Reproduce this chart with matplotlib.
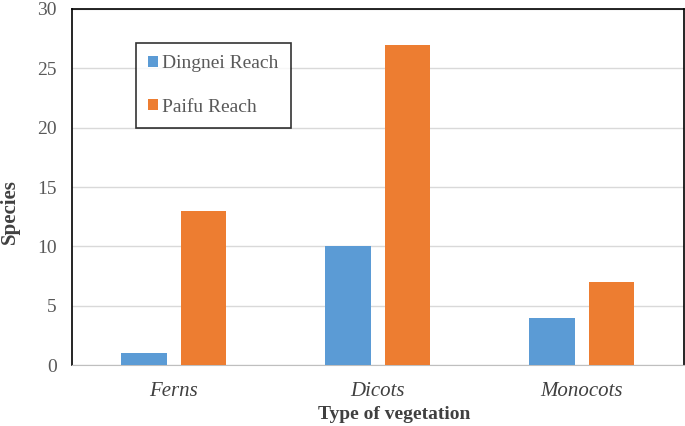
import numpy as np
import matplotlib.pyplot as plt

categories = ['Ferns', 'Dicots', 'Monocots']
dingnei = [1, 10, 4]
paifu = [13, 27, 7]

plt.rcParams['font.family'] = ['Liberation Serif', 'DejaVu Serif']

fig = plt.figure(figsize=(6.85, 4.26), dpi=100)
ax = fig.add_axes([0.105, 0.143, 0.8935, 0.836])

x = np.arange(len(categories))
w = 0.225
off = 0.145
ax.bar(x - off, dingnei, w, color='#5B9BD5', label='Dingnei Reach', zorder=3)
ax.bar(x + off, paifu, w, color='#ED7D31', label='Paifu Reach', zorder=3)

ax.set_xlim(-0.5, 2.5)
ax.set_ylim(0, 30)
ax.set_yticks(range(0, 31, 5))
ax.yaxis.grid(True, color='#d9d9d9', linewidth=1, zorder=0)
ax.set_xticks(x)
ax.set_xticklabels(categories, fontstyle='italic', fontsize=15, color='#404040')
ax.tick_params(axis='y', labelsize=14, labelcolor='#595959', length=0, pad=11)
ax.tick_params(axis='x', length=0, pad=12)

for s in ['left', 'top', 'right']:
    ax.spines[s].set_color('black')
    ax.spines[s].set_linewidth(1.2)
ax.spines['bottom'].set_color('#bfbfbf')

ax.set_xlabel('Type of vegetation', fontsize=14, fontweight='bold', color='#404040')
ax.xaxis.set_label_coords(0.526, -0.115)
ax.set_ylabel('Species', fontsize=15, fontweight='bold', color='#404040')
ax.yaxis.set_label_coords(-0.085, 0.43)

leg = ax.legend(loc='upper left', bbox_to_anchor=(0.104, 0.905), fontsize=14,
                frameon=True, fancybox=False, edgecolor='black', labelspacing=1.35,
                handlelength=0.5, handleheight=0.5, handletextpad=0.2, borderpad=0.65,
                borderaxespad=0)
leg.get_frame().set_linewidth(1.2)
for t in leg.get_texts():
    t.set_color('#595959')

fig.savefig('out.png', dpi=100)
